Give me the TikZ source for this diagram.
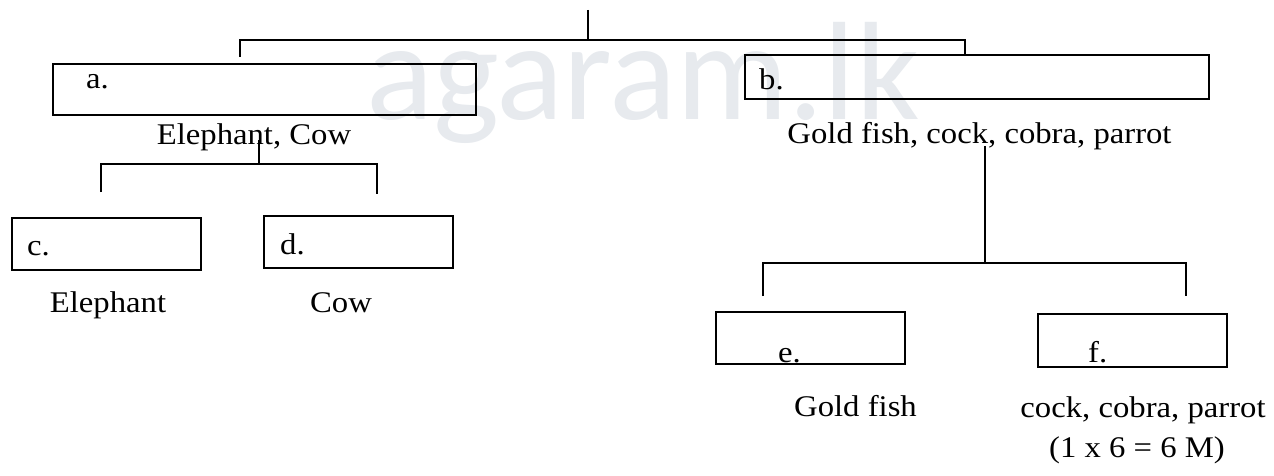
\documentclass[tikz,border=0pt]{standalone}
\usepackage{fontspec}
\setmainfont{Liberation Serif}[FakeStretch=1.09]
\newfontfamily\wmfont{Carlito}
\definecolor{wmgray}{RGB}{231,234,238}
\begin{document}
\begin{tikzpicture}[x=1pt,y=-1pt,
  box/.style={draw=black, line width=1.8pt, minimum width=189pt, minimum height=52pt, inner sep=0pt},
  txt/.style={font=\fontsize{30}{36}\selectfont, inner sep=0pt},
  conn/.style={draw=black, line width=1.8pt},
  wm/.style={font=\wmfont\fontsize{140}{140}\selectfont, text=wmgray, inner sep=0pt}]
\useasboundingbox (0,0) rectangle (1274,476);
% watermark
\node[wm, anchor=base] (wmark) at (643,120) {agaram.lk};
% boxes
\node[box, minimum width=423pt, minimum height=51pt] (a) at (264.5,89.5) {};
\node[box, minimum width=464pt, minimum height=44pt] (b) at (977,77) {};
\node[box] (c) at (106.5,244) {};
\node[box] (d) at (358.5,242) {};
\node[box] (e) at (810.5,338) {};
\node[box, minimum height=53pt] (f) at (1132.5,340.5) {};
% box labels
\node[txt, anchor=base west] (ta) at (86,89) {a.};
\node[txt, anchor=base west] (tb) at (759,90) {b.};
\node[txt, anchor=base west] (tc) at (27,255) {c.};
\node[txt, anchor=base west] (td) at (280,254) {d.};
\node[txt, anchor=base west] (te) at (778,362) {e.};
\node[txt, anchor=base west] (tf) at (1088,362) {f.};
% group texts
\node[txt, anchor=base] (ga) at (254,144) {Elephant, Cow};
\node[txt, anchor=base] (gb) at (979.5,143) {Gold fish, cock, cobra, parrot};
\node[txt, anchor=base] (gc) at (108,312) {Elephant};
\node[txt, anchor=base] (gd) at (341,312) {Cow};
\node[txt, anchor=base] (ge) at (855.5,416) {Gold fish};
\node[txt, anchor=base] (gf) at (1143,417) {cock, cobra, parrot};
\node[txt, anchor=base] (marks) at (1137,457) {(1 x 6 = 6 M)};
% connector coordinates
\coordinate (top) at (588,10);
\coordinate (topj) at (588,40);
\coordinate (la) at (240,57);
\coordinate (lb) at (965,55);
\coordinate (es) at (259,140);
\coordinate (ej) at (259,164);
\coordinate (lc) at (101,192);
\coordinate (ld) at (377,194);
\coordinate (gs) at (985,146);
\coordinate (gj) at (985,263);
\coordinate (le) at (763,296);
\coordinate (lf) at (1186,296);
% connectors
\draw[conn] (top) -- (topj);
\draw[conn] (la) -- (la |- topj) -- (lb |- topj) -- (lb);
\draw[conn] (es) -- (ej);
\draw[conn] (lc) -- (lc |- ej) -- (ld |- ej) -- (ld);
\draw[conn] (gs) -- (gj);
\draw[conn] (le) -- (le |- gj) -- (lf |- gj) -- (lf);
\end{tikzpicture}
\end{document}
